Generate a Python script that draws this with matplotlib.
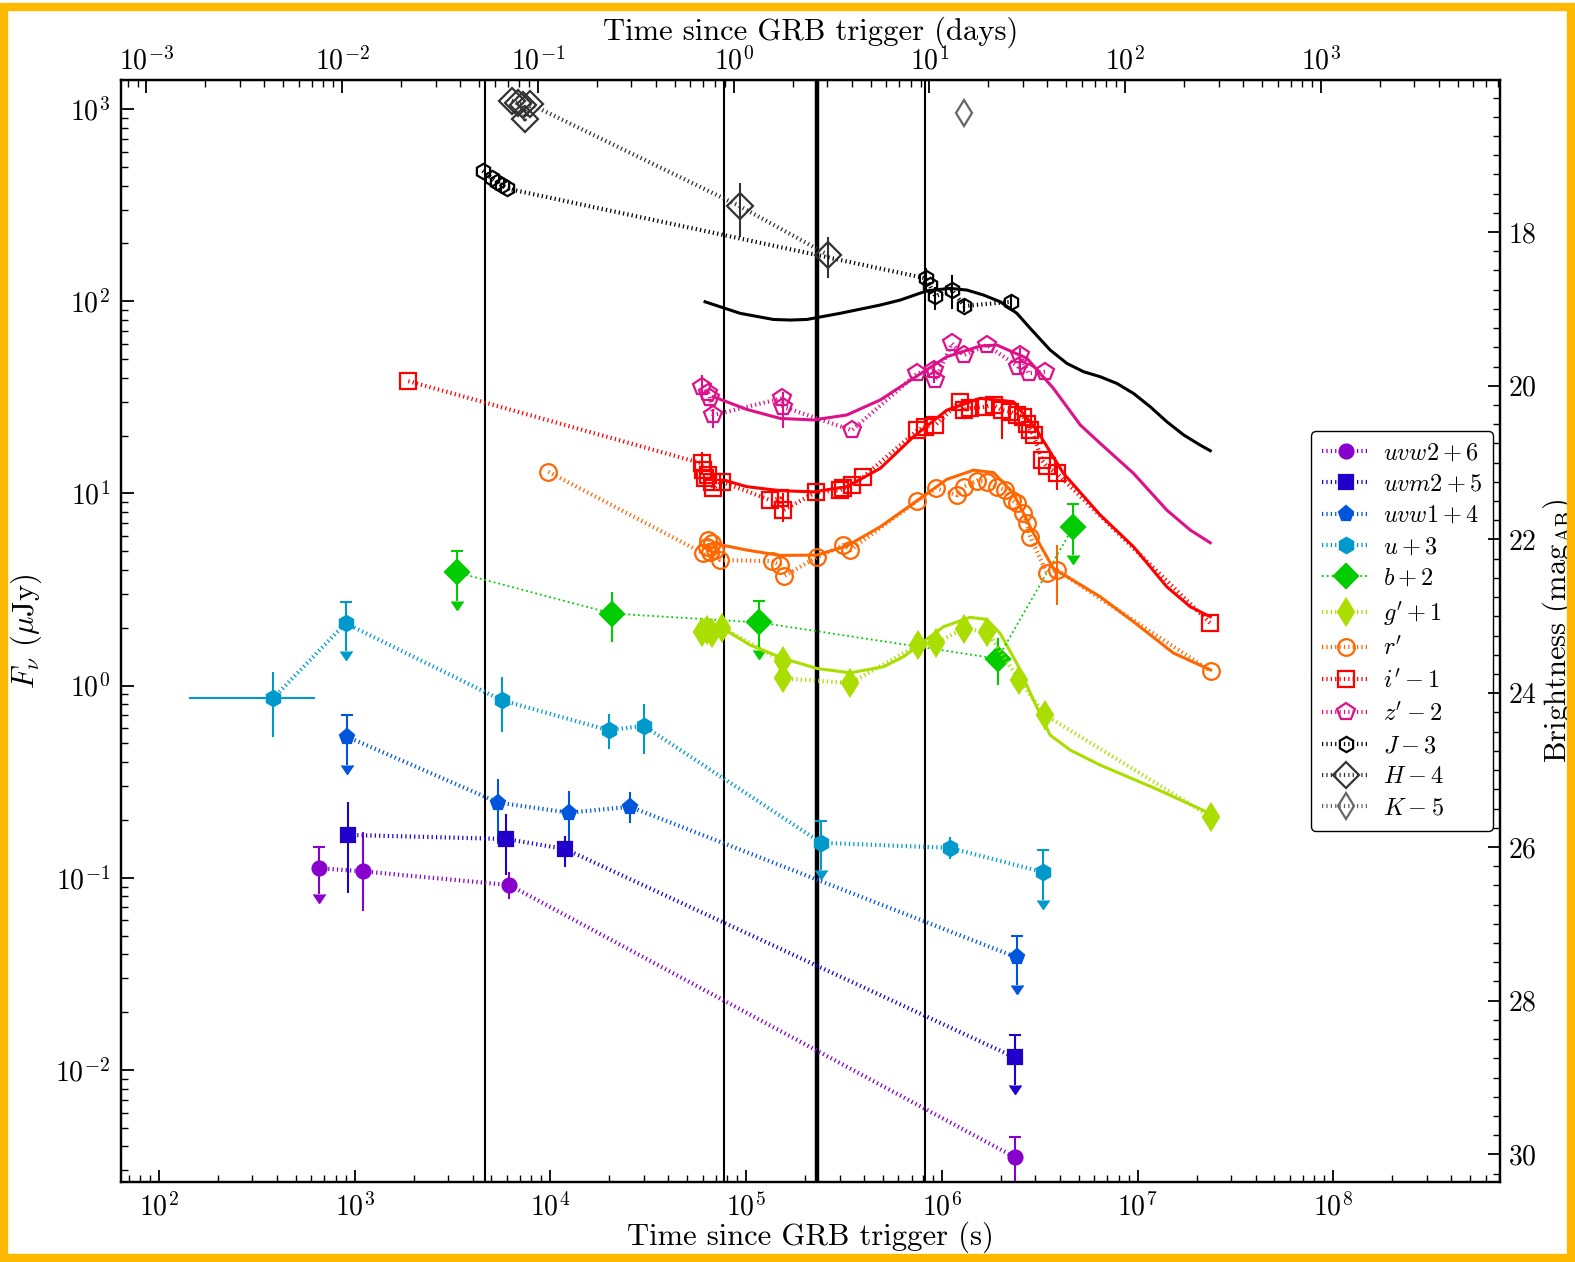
import numpy as np
import matplotlib.pyplot as plt
from matplotlib.patches import Rectangle
from matplotlib.ticker import MultipleLocator, LogLocator, NullFormatter

plt.rcParams.update({
    "font.family": "serif",
    "font.serif": ["cmr10"],
    "mathtext.fontset": "cm",
    "axes.formatter.use_mathtext": True,
    "axes.unicode_minus": False,
    "font.size": 20,
})

# ---- photometry (time in s, flux density in microJy, already offset) ----
uvw2_t = [661, 1098, 6170, 2.36e6]
uvw2_f = [0.112, 0.108, 0.0916, 0.00351]
uvw2_lo = [0.0822, 0.0670, 0.0774, 0.0022]
uvw2_hi = [0.145, 0.173, 0.107, 0.00447]
uvw2_ul = [True, False, False, True]

uvm2_t = [930, 5960, 11900, 2.36e6]
uvm2_f = [0.167, 0.159, 0.141, 0.0116]
uvm2_lo = [0.0832, 0.103, 0.114, 0.00835]
uvm2_hi = [0.249, 0.215, 0.165, 0.0151]
uvm2_ul = [False, False, False, True]

uvw1_t = [909, 5420, 12400, 25500, 2.41e6]
uvw1_f = [0.543, 0.246, 0.218, 0.234, 0.0385]
uvw1_lo = [0.384, 0.150, 0.145, 0.193, 0.0278]
uvw1_hi = [0.700, 0.328, 0.281, 0.278, 0.0499]
uvw1_ul = [True, False, False, False, True]

u_t = [384, 898, 5640, 19860, 29900, 2.415e5, 1.10e6, 3.28e6]
u_f = [0.859, 2.11, 0.839, 0.585, 0.618, 0.152, 0.143, 0.107]
u_lo = [0.537, 1.51, 0.570, 0.466, 0.440, 0.110, 0.125, 0.0764]
u_hi = [1.175, 2.73, 1.114, 0.710, 0.800, 0.197, 0.163, 0.140]
u_ul = [False, True, False, False, False, True, False, True]
u_first_span = [142, 630]

b_t = [3320, 20660, 1.165e5, 1.925e6, 4.69e6]
b_f = [3.88, 2.37, 2.13, 1.38, 6.70]
b_lo = [2.75, 1.68, 1.53, 1.005, 4.77]
b_hi = [5.03, 3.07, 2.76, 1.77, 8.77]
b_ul = [True, False, True, False, True]

g_t = [59300, 62950, 66720, 75100, 1.539e5, 1.549e5, 3.40e5, 7.59e5, 9.31e5,
       1.29e6, 1.709e6, 2.48e6, 3.37e6, 2.36e7]
g_f = [1.90, 1.94, 1.87, 2.00, 1.34, 1.09, 1.03, 1.63, 1.66,
       1.98, 1.90, 1.07, 0.702, 0.2075]
g_bar_t = [3.37e6]
g_bar_lo = [0.585]
g_bar_hi = [0.790]

r_t = [9770, 60530, 62950, 64100, 65460, 66720, 69340, 73620, 1.352e5, 1.492e5,
       1.563e5, 2.295e5, 3.14e5, 3.40e5, 7.50e5, 9.35e5, 1.194e6, 1.290e6, 1.510e6,
       1.699e6, 1.910e6, 2.105e6, 2.28e6, 2.415e6, 2.61e6, 2.72e6, 2.825e6, 3.44e6,
       3.87e6, 2.36e7]
r_f = [12.95, 4.87, 5.27, 5.71, 4.97, 5.49, 5.07, 4.50, 4.44, 4.24,
       3.71, 4.65, 5.38, 5.07, 9.16, 10.62, 9.79, 10.83, 11.64,
       11.50, 10.83, 10.40, 9.22, 8.87, 7.87, 6.98, 5.95, 3.84,
       3.99, 1.19]
r_bar_t = [3.87e6]
r_bar_lo = [2.62]
r_bar_hi = [5.38]

i_t = [1880, 59300, 60530, 61660, 64120, 66720, 68080, 75160, 1.327e5, 1.492e5,
       1.549e5, 2.27e5, 3.02e5, 3.14e5, 3.47e5, 3.97e5, 7.50e5, 8.22e5, 9.25e5,
       1.240e6, 1.290e6, 1.393e6, 1.632e6, 1.837e6, 2.026e6, 2.236e6, 2.415e6,
       2.61e6, 2.72e6, 2.825e6, 2.94e6, 3.24e6, 3.44e6, 3.87e6, 2.35e7]
i_f = [38.4, 14.33, 13.22, 11.97, 12.45, 11.50, 10.62, 11.50, 9.22, 9.41,
       8.18, 10.12, 10.40, 10.62, 11.05, 12.19, 21.3, 22.2, 22.7,
       30.0, 27.1, 27.7, 28.2, 28.8, 27.1, 26.6, 25.6,
       25.1, 23.1, 21.3, 20.1, 14.9, 13.8, 12.7, 2.11]
i_bar_t = [59300, 1.549e5, 2.026e6, 3.87e6]
i_bar_lo = [12.5, 7.1, 19.3, 10.4]
i_bar_hi = [16.5, 10.0, 30.0, 14.5]

z_t = [59300, 64120, 65460, 68080, 1.521e5, 1.549e5, 3.47e5, 7.50e5, 9.06e5,
       9.25e5, 1.125e6, 1.290e6, 1.695e6, 2.46e6, 2.51e6, 2.77e6, 3.37e6]
z_f = [35.9, 33.1, 31.2, 25.6, 31.2, 28.2, 21.3, 42.2, 43.9,
       38.9, 60.3, 52.4, 59.1, 45.6, 52.4, 42.2, 43.0]
z_bar_t = [59300, 68080, 1.549e5, 9.06e5, 2.51e6]
z_bar_lo = [30.5, 21.8, 21.8, 37.4, 42.2]
z_bar_hi = [41.3, 27.5, 33.8, 48.6, 57.3]

J_t = [4510, 5010, 5320, 5640, 5980, 8.32e5, 8.65e5, 9.25e5, 1.125e6, 1.30e6, 2.26e6]
J_f = [477, 436, 418, 402, 386, 131.4, 121.4, 106.3, 114.3, 94.4, 99.4]
J_bar_t = [8.32e5, 9.25e5, 1.125e6, 1.30e6, 2.26e6]
J_bar_lo = [114.3, 89.9, 91.6, 88.0, 91.0]
J_bar_hi = [148.7, 118.9, 136.9, 101.0, 108.0]

H_t = [6340, 6850, 7270, 7410, 7860, 92500, 2.63e5]
H_f = [1105, 1070, 1050, 883, 1062, 312.7, 173.8]
H_bar_t = [92500, 2.63e5]
H_bar_lo = [217, 131.5]
H_bar_hi = [410, 215]

K_t = [1.30e6]
K_f = [950]

# ---- model light curves (log10 time [s], log10 flux [microJy]) ----
Jm_logt = [4.790, 4.969, 5.139, 5.225, 5.310, 5.480, 5.685, 5.787, 5.923, 6.042,
           6.128, 6.213, 6.298, 6.383, 6.451, 6.553, 6.639, 6.724, 6.809, 6.894,
           6.979, 7.064, 7.149, 7.235, 7.320, 7.371]
Jm_logf = [1.997, 1.937, 1.905, 1.902, 1.905, 1.937, 1.980, 2.006, 2.054, 2.067,
           2.058, 2.032, 1.997, 1.937, 1.859, 1.746, 1.676, 1.633, 1.607, 1.572,
           1.520, 1.451, 1.373, 1.304, 1.251, 1.222]

zm_logt = [4.833, 5.003, 5.174, 5.344, 5.514, 5.685, 5.855, 6.025, 6.196, 6.281,
           6.434, 6.570, 6.707, 6.809, 6.979, 7.149, 7.269, 7.371]
zm_logf = [1.503, 1.437, 1.390, 1.382, 1.408, 1.486, 1.599, 1.711, 1.767, 1.772,
           1.703, 1.546, 1.356, 1.260, 1.104, 0.913, 0.809, 0.743]

im_logt = [4.884, 5.003, 5.174, 5.344, 5.514, 5.685, 5.855, 6.025, 6.196, 6.366,
           6.485, 6.621, 6.809, 6.979, 7.149, 7.269, 7.371]
im_logf = [1.070, 1.035, 1.014, 1.008, 1.035, 1.130, 1.295, 1.433, 1.495, 1.477,
           1.329, 1.104, 0.887, 0.722, 0.514, 0.410, 0.358]

rm_logt = [4.833, 5.003, 5.174, 5.361, 5.514, 5.685, 5.855, 6.025, 6.162, 6.264,
           6.366, 6.468, 6.570, 6.809, 6.979, 7.183, 7.373]
rm_logf = [0.740, 0.705, 0.677, 0.679, 0.726, 0.826, 0.948, 1.073, 1.121, 1.108,
           1.000, 0.792, 0.609, 0.462, 0.332, 0.169, 0.081]

gm_logt = [4.875, 5.020, 5.190, 5.361, 5.531, 5.702, 5.804, 5.906, 6.008, 6.144,
           6.229, 6.298, 6.383, 6.468, 6.553, 6.656, 6.809, 7.091, 7.373]
gm_logf = [0.301, 0.211, 0.141, 0.089, 0.066, 0.098, 0.150, 0.228, 0.306, 0.355,
           0.344, 0.271, 0.115, -0.076, -0.258, -0.336, -0.414, -0.536, -0.667]

# epochs marked with vertical lines (s)
epoch_t = [4630, 77000, 2.31e5, 8.2e5]
epoch_lw = [1.5, 1.5, 3.2, 1.5]

xlim = (64, 7.1e8)
ylim = (0.00261, 1416)

# short tick-like dots along the connecting lines
DOTS = (0, (0.3, 0.75))

fig = plt.figure(figsize=(15.75, 12.62), dpi=100)
ax = fig.add_axes([0.0768, 0.0634, 0.8756, 0.8732])
ax.set_xscale("log")
ax.set_yscale("log")


def band(t, f, color, marker, label, ms=10, filled=True, ls=DOTS, lw=3.0):
    ax.plot(t, f, linestyle=ls, lw=lw, color=color, marker=marker, ms=ms,
            mfc=color if filled else "none", mec=color, mew=1.6,
            label=label, zorder=4)


def bars(t, lo, hi, color, ul=None):
    ax.vlines(t, lo, hi, color=color, lw=1.5, zorder=3)
    if ul is None:
        return
    for ti, l, h, u in zip(t, lo, hi, ul):
        if u:
            ax.plot([ti], [h], marker="_", ms=9, mew=1.5, color=color, zorder=3)
            ax.plot([ti], [l], marker=11, ms=9, color=color, zorder=3)


for t, w in zip(epoch_t, epoch_lw):
    ax.axvline(t, color="k", lw=w, zorder=2)

band(uvw2_t, uvw2_f, "#8800cc", "o", r"$uvw2+6$")
bars(uvw2_t, uvw2_lo, uvw2_hi, "#8800cc", uvw2_ul)
band(uvm2_t, uvm2_f, "#2200cc", "s", r"$uvm2+5$")
bars(uvm2_t, uvm2_lo, uvm2_hi, "#2200cc", uvm2_ul)
band(uvw1_t, uvw1_f, "#0055dd", "p", r"$uvw1+4$", ms=11)
bars(uvw1_t, uvw1_lo, uvw1_hi, "#0055dd", uvw1_ul)
band(u_t, u_f, "#0099cc", "h", r"$u+3$", ms=11)
bars(u_t, u_lo, u_hi, "#0099cc", u_ul)
ax.hlines(u_f[0], u_first_span[0], u_first_span[1], color="#0099cc", lw=1.5, zorder=3)
band(b_t, b_f, "#00cc00", "D", r"$b+2$", ms=12, ls=":", lw=1.3)
bars(b_t, b_lo, b_hi, "#00cc00", b_ul)
band(g_t, g_f, "#aadd00", "d", r"$g^{\prime}+1$", ms=13)
bars(g_bar_t, g_bar_lo, g_bar_hi, "#aadd00")
band(r_t, r_f, "#ff6600", "o", r"$r^{\prime}$", ms=12, filled=False)
bars(r_bar_t, r_bar_lo, r_bar_hi, "#ff6600")
band(i_t, i_f, "#ff0000", "s", r"$i^{\prime}-1$", ms=12, filled=False)
bars(i_bar_t, i_bar_lo, i_bar_hi, "#ff0000")
band(z_t, z_f, "#dd1188", "p", r"$z^{\prime}-2$", ms=13, filled=False)
bars(z_bar_t, z_bar_lo, z_bar_hi, "#dd1188")
band(J_t, J_f, "#000000", "h", r"$J-3$", ms=11, filled=False)
bars(J_bar_t, J_bar_lo, J_bar_hi, "#000000")
band(H_t, H_f, "#333333", "D", r"$H-4$", ms=13, filled=False)
bars(H_bar_t, H_bar_lo, H_bar_hi, "#333333")
band(K_t, K_f, "#666666", "d", r"$K-5$", ms=13, filled=False)

# model curves
for lt, lf, c in [(Jm_logt, Jm_logf, "#000000"), (zm_logt, zm_logf, "#dd1188"),
                  (im_logt, im_logf, "#ff0000"), (rm_logt, rm_logf, "#ff6600"),
                  (gm_logt, gm_logf, "#aadd00")]:
    ax.plot(10 ** np.array(lt), 10 ** np.array(lf), color=c, lw=2.2, zorder=3,
            solid_joinstyle="round")

ax.set_xlim(*xlim)
ax.set_ylim(*ylim)
ax.xaxis.set_major_locator(LogLocator(base=10, numticks=20))
ax.xaxis.set_minor_locator(LogLocator(base=10, subs=np.arange(2, 10), numticks=20))
ax.xaxis.set_minor_formatter(NullFormatter())
ax.set_xlabel("Time since GRB trigger (s)", fontsize=22, labelpad=0)
ax.set_ylabel(r"$F_{\nu}$ $(\mu{\rm Jy})$", fontsize=22, labelpad=8)
ax.tick_params(which="major", direction="in", length=9, width=1.3, labelsize=20, pad=8)
ax.tick_params(which="minor", direction="in", length=5, width=1.0)
for sp in ax.spines.values():
    sp.set_linewidth(1.6)

# time in days along the top
top = ax.secondary_xaxis("top", functions=(lambda s: s / 86400.0, lambda d: d * 86400.0))
top.xaxis.set_major_locator(LogLocator(base=10, numticks=20))
top.xaxis.set_minor_locator(LogLocator(base=10, subs=np.arange(2, 10), numticks=20))
top.xaxis.set_minor_formatter(NullFormatter())
top.tick_params(which="major", direction="in", length=9, width=1.3, labelsize=20, pad=3)
top.tick_params(which="minor", direction="in", length=5, width=1.0)
top.set_xlabel("Time since GRB trigger (days)", fontsize=22, labelpad=5)

# AB magnitude on the right
ax2 = ax.twinx()
ax2.set_ylim(23.9 - 2.5 * np.log10(ylim[0]), 23.9 - 2.5 * np.log10(ylim[1]))
ax2.yaxis.set_major_locator(MultipleLocator(2))
ax2.yaxis.set_minor_locator(MultipleLocator(0.25))
ax2.tick_params(which="major", direction="in", length=9, width=1.3, labelsize=20, pad=6)
ax2.tick_params(which="minor", direction="in", length=5, width=1.0)
ax2.set_ylabel(r"Brightness (mag$_{\rm AB}$)", fontsize=22, labelpad=2)
for sp in ax2.spines.values():
    sp.set_linewidth(1.6)

leg = ax.legend(loc="center left", bbox_to_anchor=(0.854, 0.5), fontsize=17.5,
                frameon=True, fancybox=True, edgecolor="k", framealpha=1,
                handlelength=2.0, handletextpad=0.5, labelspacing=0.38,
                borderpad=0.45, numpoints=1)
leg.get_frame().set_linewidth(1.0)
leg.set_zorder(10)

fig.patches.append(Rectangle((0.0025, 0.003), 0.995, 0.9915, transform=fig.transFigure,
                             fill=False, edgecolor="#ffb900", lw=6, zorder=20))

fig.savefig("out.png", dpi=100)
